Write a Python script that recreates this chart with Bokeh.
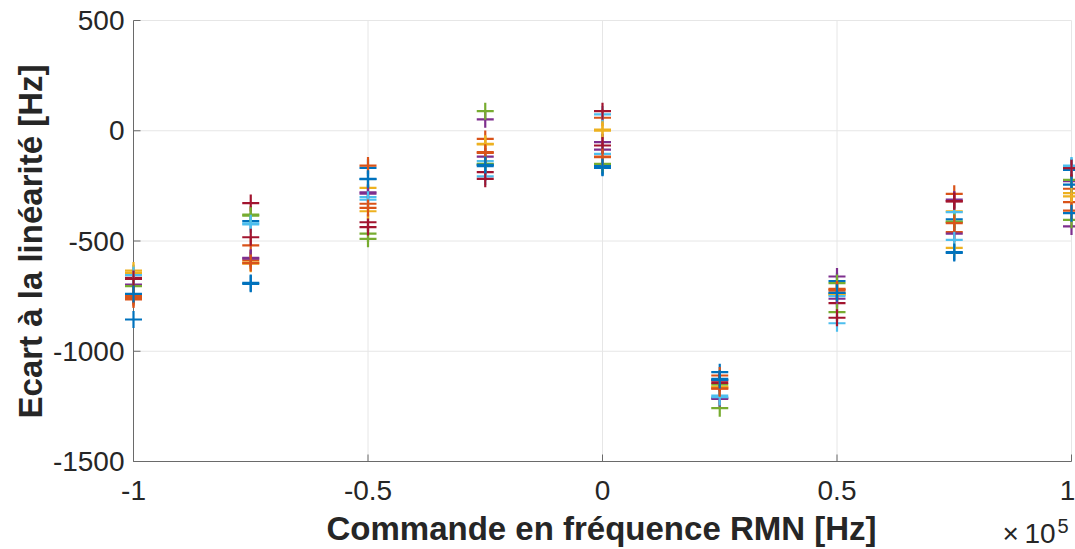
import math
from bokeh.plotting import figure
from bokeh.models import Label, ColumnDataSource
from bokeh.core.properties import value
from bokeh.embed import file_html
from bokeh.resources import INLINE

commands = [-100000, -75000, -50000, -25000, 0, 25000, 50000, 75000, 100000]

colors = ["#0072BD", "#D95319", "#EDB120", "#7E2F8E", "#77AC30", "#4DBEEE", "#A2142F"]

# one list per series (colours cycling), values in Hz at each command
s0 = [-747, -410, -168, -153, -168, -1095, -682, -402, -177]
s1 = [-765, -520, -158, -37, 59, -1110, -717, -286, -263]
s2 = [-634, -603, -259, -59, 1, -1163, -745, -366, -283]
s3 = [-702, -576, -279, 52, -52, -1216, -661, -312, -229]
s4 = [-702, -380, -467, 89, -153, -1258, -691, -412, -223]
s5 = [-649, -425, -301, -138, 74, -1201, -750, -369, -158]
s6 = [-667, -328, -415, -188, 89, -1133, -782, -319, -168]
s7 = [-856, -694, -218, -160, -160, -1125, -737, -554, -244]
s8 = [-758, -588, -331, -97, -117, -1170, -720, -460, -324]
s9 = [-645, -598, -365, -62, 5, -1160, -740, -531, -298]
s10 = [-698, -580, -285, -117, -86, -1212, -762, -467, -434]
s11 = [-705, -385, -490, -150, -150, -1150, -823, -415, -404]
s12 = [-655, -420, -313, -207, -105, -1208, -873, -495, -160]
s13 = [-672, -483, -437, -218, -67, -1143, -848, -320, -170]
s14 = [-750, -600, -350, -100, -120, -1168, -725, -419, -362]
s15 = [-740, -690, -220, -155, -165, -1130, -735, -550, -374]

series = [s0, s1, s2, s3, s4, s5, s6, s7, s8, s9, s10, s11, s12, s13, s14, s15]
series_colors = [colors[i % 7] for i in range(14)] + ["#D95319", "#0072BD"]

x_ticks = [-100000, -50000, 0, 50000, 100000]
x_tick_labels = ["-1", "-0.5", "0", "0.5", "1"]
y_ticks = [500, 0, -500, -1000, -1500]
y_tick_labels = ["500", "0", "-500", "-1000", "-1500"]

FONT = "Liberation Sans"
AXC = "#262626"
LINEC = "#6a6a6a"
GRIDC = "#e6e6e6"

W, H = 1075, 549
# axes box in canvas pixels
AX_L, AX_R, AX_T, AX_B = 133, 1071, 20, 461
xmin, xmax = x_ticks[0], x_ticks[-1]
ymin, ymax = y_ticks[-1], y_ticks[0]
upp_x = (xmax - xmin) / (AX_R - AX_L)
upp_y = (ymax - ymin) / (AX_B - AX_T)
x0 = xmin - AX_L * upp_x
y1 = ymax + AX_T * upp_y

p = figure(frame_width=W, frame_height=H,
           x_range=(x0, x0 + W * upp_x), y_range=(y1 - H * upp_y, y1),
           output_backend="svg", toolbar_location=None, min_border=0)
p.outline_line_color = None
p.axis.visible = False
p.grid.visible = False
p.background_fill_color = "white"
p.border_fill_color = "white"

n = len(y_ticks)
m = len(x_ticks)
# grid
p.segment(x0=[xmin] * n, x1=[xmax] * n, y0=y_ticks, y1=y_ticks, line_color=GRIDC, line_width=1)
p.segment(x0=x_ticks, x1=x_ticks, y0=[ymin] * m, y1=[ymax] * m, line_color=GRIDC, line_width=1)

# axis lines and inward ticks
p.segment(x0=[xmin], x1=[xmin], y0=[ymin], y1=[ymax], line_color=LINEC, line_width=1)
p.segment(x0=[xmin], x1=[xmax], y0=[ymin], y1=[ymin], line_color=LINEC, line_width=1)
p.ray(x=[xmin] * n, y=y_ticks, length=7, length_units="screen", angle=0,
      line_color=LINEC, line_width=1)
p.ray(x=x_ticks, y=[ymin] * m, length=7, length_units="screen", angle=math.pi / 2,
      line_color=LINEC, line_width=1)

# data
for vals, col in zip(series, series_colors):
    src = ColumnDataSource(dict(x=commands, y=vals))
    p.scatter("x", "y", source=src, marker="cross", size=17,
              line_color=col, line_width=2.2)

# tick labels (the last x label is nudged left so that it stays on the canvas)
p.text(x=x_ticks[:-1], y=[ymin] * (m - 1), text=x_tick_labels[:-1], y_offset=29,
       text_font=value(FONT), text_font_size="28px", text_color=AXC,
       text_align="center", text_baseline="middle")
p.text(x=x_ticks[-1:], y=[ymin], text=x_tick_labels[-1:], y_offset=29, x_offset=-4,
       text_font=value(FONT), text_font_size="28px", text_color=AXC,
       text_align="center", text_baseline="middle")
p.text(x=[xmin] * n, y=y_ticks, text=y_tick_labels, x_offset=-9,
       text_font=value(FONT), text_font_size="28px", text_color=AXC,
       text_align="right", text_baseline="middle")

# axis titles (screen px from bottom-left of the canvas)
p.add_layout(Label(x=(AX_L + AX_R) / 2 - 1, y=H - 528, x_units="screen", y_units="screen",
                   text="Commande en fréquence RMN [Hz]", text_font=FONT,
                   text_font_size="33px", text_font_style="bold", text_color=AXC,
                   text_align="center", text_baseline="middle"))
p.add_layout(Label(x=30, y=H - 241, x_units="screen", y_units="screen",
                   text="Ecart à la linéarité [Hz]", angle=math.pi / 2, text_font=FONT,
                   text_font_size="33px", text_font_style="bold", text_color=AXC,
                   text_align="center", text_baseline="middle"))

# exponent note
p.add_layout(Label(x=1002, y=H - 533, x_units="screen", y_units="screen", text="×",
                   text_font=FONT, text_font_size="28px", text_color=AXC,
                   text_baseline="middle", text_align="left"))
p.add_layout(Label(x=1024, y=H - 533, x_units="screen", y_units="screen", text="10",
                   text_font=FONT, text_font_size="28px", text_color=AXC,
                   text_baseline="middle", text_align="left"))
p.add_layout(Label(x=1057, y=H - 525, x_units="screen", y_units="screen", text="5",
                   text_font=FONT, text_font_size="20px", text_color=AXC,
                   text_baseline="middle", text_align="left"))

open("out.html", "w").write(file_html(p, INLINE))
